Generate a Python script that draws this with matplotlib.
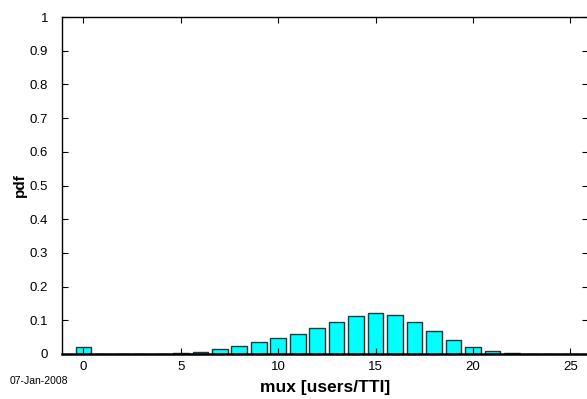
import numpy as np
import matplotlib
matplotlib.use('Agg')
import matplotlib.pyplot as plt

plt.rcParams['font.family'] = ['Liberation Sans', 'DejaVu Sans']

# users per TTI and their pdf
mux = np.arange(0, 26)
pdf = [0.021, 0, 0, 0, 0, 0.004, 0.007, 0.015, 0.025, 0.036,
       0.048, 0.060, 0.078, 0.096, 0.113, 0.122, 0.116, 0.096, 0.069, 0.042,
       0.021, 0.0095, 0.003, 0.0005, 0, 0]
xticks = [0, 5, 10, 15, 20, 25]
yticks = np.arange(0, 1.01, 0.1)
ytick_labels = ['0'] + ['%.1f' % v for v in yticks[1:-1]] + ['1']
date_str = '07-Jan-2008'

W, H = 587, 399
fig = plt.figure(figsize=(W / 100, H / 100), dpi=100)
ax = fig.add_axes([62 / W, 45 / H, (588 - 62) / W, (354 - 17) / H])

ax.bar(mux, pdf, width=0.8, color='#00ffff', edgecolor='#333333', linewidth=1.0)

ax.set_xlim(-1.1, 25.9)
ax.set_ylim(0, 1)
ax.set_xticks(xticks)
ax.set_yticks(yticks)
ax.set_yticklabels(ytick_labels)
ax.tick_params(direction='in', top=True, right=True, length=4, width=0.8,
               labelsize=9.5, colors='black')
ax.tick_params(axis='y', pad=10)
ax.tick_params(axis='x', pad=5)
for s in ax.spines.values():
    s.set_linewidth(1.0)
ax.spines['bottom'].set_linewidth(1.8)

ax.set_xlabel('mux [users/TTI]', fontsize=12.5, fontweight='bold', labelpad=5)
ax.set_ylabel('pdf', fontsize=11, fontweight='bold')
ax.yaxis.set_label_coords((27 - 62) / (588 - 62), 0.5)

fig.text(10 / W, 1 - 381 / H, date_str, fontsize=7.5, va='center', ha='left')

fig.savefig('out.png', dpi=100)
